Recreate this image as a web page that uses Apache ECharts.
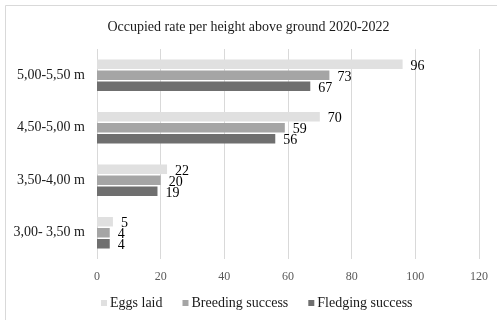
<!DOCTYPE html>
<html><head><meta charset="utf-8">
<script src="https://cdn.jsdelivr.net/npm/echarts@6/dist/echarts.min.js"></script>
<style>html,body{margin:0;padding:0;background:#fff}#c{width:497px;height:320px}</style>
</head><body><div id="c"></div>
<script>
const categories = ['5,00-5,50 m', '4,50-5,00 m', '3,50-4,00 m', '3,00- 3,50 m'];
const seriesNames = ['Eggs laid', 'Breeding success', 'Fledging success'];
const eggsLaid = [96, 70, 22, 5];
const breedingSuccess = [73, 59, 20, 4];
const fledgingSuccess = [67, 56, 19, 4];
const xTicks = [0, 20, 40, 60, 80, 100, 120];
const titleText = 'Occupied rate per height above ground 2020-2022';

const colors = ['#e0e0e0', '#a5a5a5', '#6f6f6f'];
const font = '"Liberation Serif", "Times New Roman", serif';
const values = [eggsLaid, breedingSuccess, fledgingSuccess];

const chart = echarts.init(document.getElementById('c'), null, {renderer: 'canvas'});
chart.setOption({
  animation: false,
  backgroundColor: '#fff',
  title: {text: titleText, left: 'center', top: 15,
    textStyle: {fontFamily: font, fontSize: 14, fontWeight: 'normal', color: '#1a1a1a'}},
  graphic: [{type: 'rect', shape: {x: 5.5, y: 5.5, width: 520, height: 340},
    style: {fill: 'none', stroke: '#d9d9d9', lineWidth: 1}, silent: true}],
  legend: {data: seriesNames, bottom: 5, left: 96, itemWidth: 6, itemHeight: 6, itemGap: 20,
    icon: 'rect', textStyle: {fontFamily: font, fontSize: 14, color: '#1a1a1a', padding: [0, 0, 0, -2]}},
  grid: {left: 97, right: 18, top: 49, bottom: 61, containLabel: false},
  xAxis: {type: 'value', min: xTicks[0], max: xTicks[xTicks.length - 1], interval: 20,
    axisLine: {show: false}, axisTick: {show: false},
    splitLine: {show: true, lineStyle: {color: '#d9d9d9', width: 1}},
    axisLabel: {fontFamily: font, fontSize: 12, color: '#595959', margin: 12}},
  yAxis: {type: 'category', data: categories, inverse: true,
    axisLine: {show: false}, axisTick: {show: false},
    axisLabel: {fontFamily: font, fontSize: 14, color: '#1a1a1a', margin: 12}},
  series: seriesNames.map((n, i) => ({
    name: n, type: 'bar', data: values[i], barWidth: 9.5, barGap: '16%',
    itemStyle: {color: colors[i]},
    label: {show: true, position: 'right', distance: 8, fontFamily: font, fontSize: 14, color: '#000', offset: [0, 2]}
  }))
});
</script></body></html>
